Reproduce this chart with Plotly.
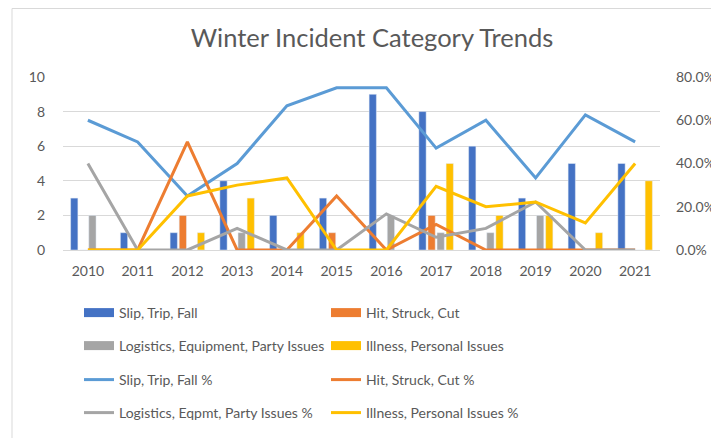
import plotly.graph_objects as go

years = ["2010", "2011", "2012", "2013", "2014", "2015", "2016", "2017", "2018", "2019", "2020", "2021"]

slip = [3, 1, 1, 4, 2, 3, 9, 8, 6, 3, 5, 5]
hit = [0, 0, 2, 0, 0, 1, 0, 2, 0, 0, 0, 0]
logistics = [2, 0, 0, 1, 0, 0, 2, 1, 1, 2, 0, 0]
illness = [0, 0, 1, 3, 1, 0, 0, 5, 2, 2, 1, 4]

slip_pct = [0.60, 0.50, 0.25, 0.40, 0.667, 0.75, 0.75, 0.471, 0.60, 0.333, 0.625, 0.50]
hit_pct = [0.0, 0.0, 0.50, 0.0, 0.0, 0.25, 0.0, 0.118, 0.0, 0.0, 0.0, 0.0]
log_pct = [0.40, 0.0, 0.0, 0.10, 0.0, 0.0, 0.167, 0.059, 0.10, 0.222, 0.0, 0.0]
ill_pct = [0.0, 0.0, 0.25, 0.30, 0.333, 0.0, 0.0, 0.294, 0.20, 0.222, 0.125, 0.40]

txt = "#595959"
font = "Lato"
W, H = 711, 430  # page body adds an 8px margin
L, R, T, B = 55, 59, 69, 188
pw, ph = W - L - R, H - T - B

fig = go.Figure()

bars = [
    ("Slip, Trip, Fall", slip, "#4472C4"),
    ("Hit, Struck, Cut", hit, "#ED7D31"),
    ("Logistics, Equipment, Party Issues", logistics, "#A5A5A5"),
    ("Illness, Personal Issues", illness, "#FFC000"),
]
lines = [
    ("Slip, Trip, Fall %", slip_pct, "#5B9BD5"),
    ("Hit, Struck, Cut %", hit_pct, "#ED7D31"),
    ("Logistics, Eqpmt, Party Issues %", log_pct, "#A5A5A5"),
    ("Illness, Personal Issues %", ill_pct, "#FFC000"),
]

# one legend per entry so the two-column Excel layout can be placed exactly
leg_names = ["legend"] + ["legend%d" % i for i in range(2, 9)]
col_x = [71 / W, 318 / W]
row_y = [1 - 305 / H, 1 - 338 / H, 1 - 372 / H, 1 - 405 / H]

for i, (name, vals, col) in enumerate(bars):
    fig.add_trace(go.Bar(x=years, y=vals, name=name, marker_color=col,
                         yaxis="y", showlegend=False))
    # wide flat swatch for the legend, like Excel's
    fig.add_trace(go.Scatter(x=[None], y=[None], name=name, mode="lines",
                             line=dict(color=col, width=9), showlegend=True,
                             legend=leg_names[i], yaxis="y"))
for i, (name, vals, col) in enumerate(lines):
    fig.add_trace(go.Scatter(x=years, y=vals, name=name, mode="lines",
                             line=dict(color=col, width=3), showlegend=True,
                             legend=leg_names[i + 4], yaxis="y2"))

legends = {}
for i, ln in enumerate(leg_names):
    legends[ln] = dict(x=col_x[i % 2], y=row_y[i // 2], xref="container", yref="container",
                       xanchor="left", yanchor="middle", itemwidth=30,
                       font=dict(family=font, size=14, color=txt),
                       bgcolor="rgba(0,0,0,0)")

# chart frame (left and top edges visible in the reference)
fx0 = (4 - L) / pw
fy_top = (H - B - 0.5) / ph
fy_bot = (H - B - H) / ph
fig.add_shape(type="line", xref="paper", yref="paper", x0=fx0, x1=fx0,
              y0=fy_bot, y1=fy_top, line=dict(color="#D9D9D9", width=1))
fig.add_shape(type="line", xref="paper", yref="paper", x0=fx0, x1=(W - L) / pw,
              y0=fy_top, y1=fy_top, line=dict(color="#D9D9D9", width=1))

fig.update_layout(
    width=W, height=H,
    showlegend=True,
    margin=dict(l=L, r=R, t=T, b=B, autoexpand=False),
    paper_bgcolor="white", plot_bgcolor="white",
    title=dict(text="Winter Incident Category Trends", x=364 / W, xanchor="center",
               y=1 - 30 / H, yanchor="middle",
               font=dict(family=font, size=25.5, color=txt)),
    barmode="group", bargap=0.27, bargroupgap=0.2,
    xaxis=dict(showgrid=False, showline=True, linecolor="#D9D9D9",
               tickfont=dict(family=font, size=14, color=txt), ticks="",
               ticklabelstandoff=8),
    yaxis=dict(range=[0, 10], dtick=2, gridcolor="#D9D9D9", zeroline=False,
               tickfont=dict(family=font, size=14, color=txt),
               ticklabelstandoff=17),
    yaxis2=dict(range=[0, 0.8], dtick=0.2, tickformat=".1%", overlaying="y",
                side="right", showgrid=False, zeroline=False,
                tickfont=dict(family=font, size=14, color=txt),
                ticklabelstandoff=15),
    **legends,
)

fig.write_html("out.html")
